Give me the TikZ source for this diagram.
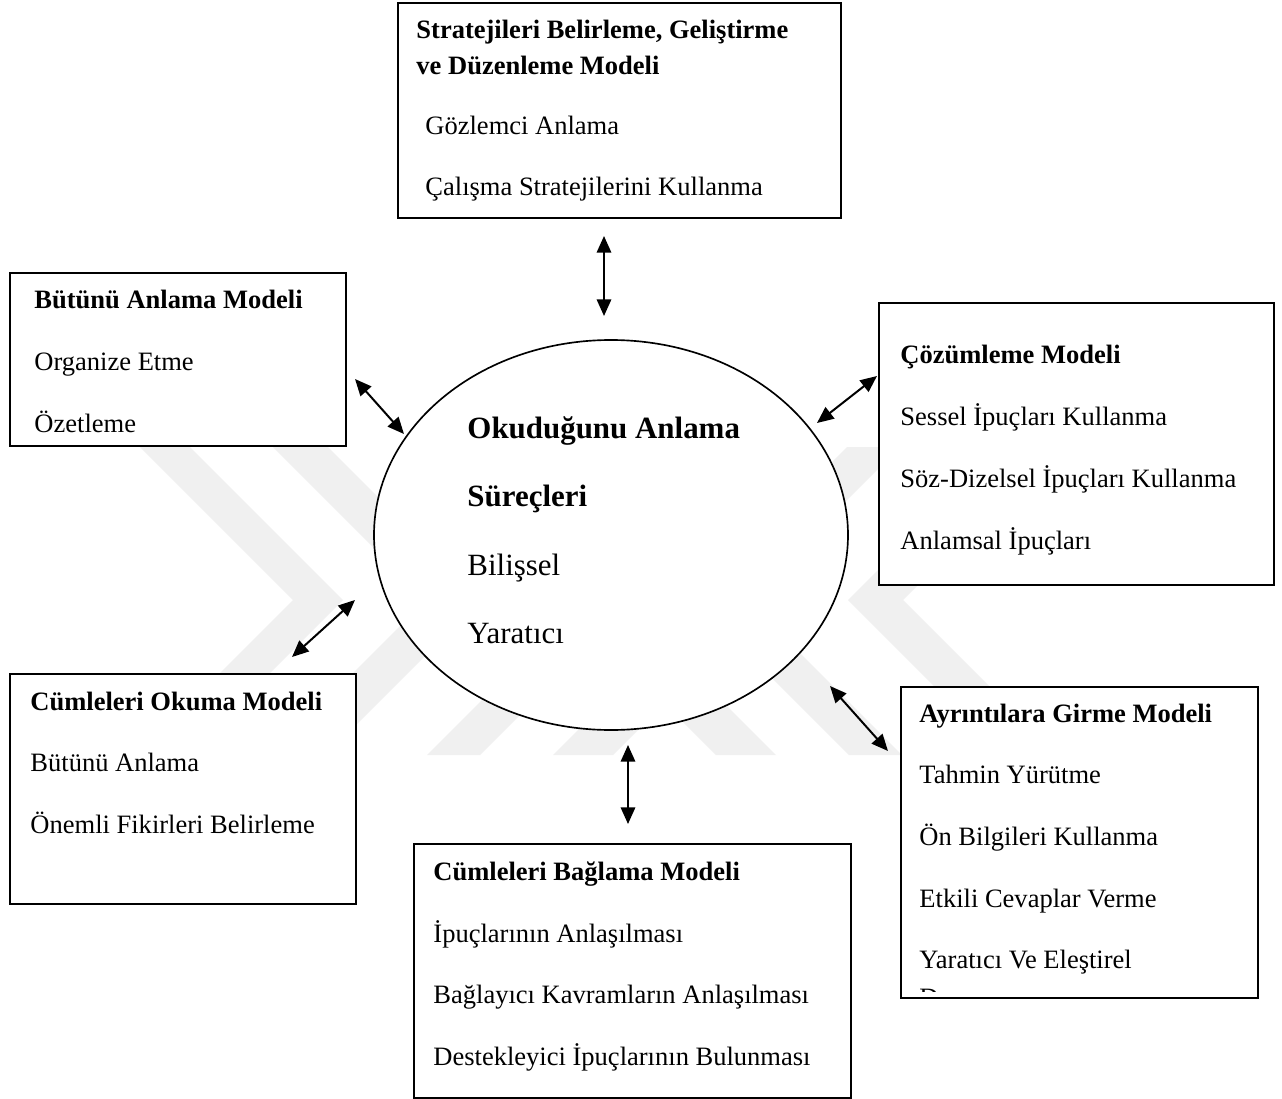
\documentclass[tikz,border=0pt]{standalone}
\usepackage{fontspec}
\setmainfont{Liberation Serif}
\usetikzlibrary{arrows.meta,shapes.geometric}
\newcommand\pxu{0.4525pt}
\begin{document}
\begin{tikzpicture}[x=0.4525pt,y=-0.4525pt,
  box/.style={draw,line width=0.75pt,fill=white,inner sep=0,anchor=north west},
  txt/.style={anchor=base west,inner sep=0,font=\fontsize{12}{14}\selectfont},
  ttl/.style={anchor=base west,inner sep=0,font=\fontsize{12}{14}\selectfont\bfseries},
  big/.style={anchor=base west,inner sep=0,font=\fontsize{14}{16}\selectfont},
  bigb/.style={anchor=base west,inner sep=0,font=\fontsize{14}{16}\selectfont\bfseries},
  wm/.style={fill=black!6},
  conn/.style={line width=0.9pt,{Triangle[length=7.5pt,width=6.5pt]}-{Triangle[length=7.5pt,width=6.5pt]}}
]
\useasboundingbox (0,0) rectangle (1282,1099);
\fill[white] (0,0) rectangle (1282,1099);
% watermark
\foreach \v/\w in {293/50,426/55,582/53,708/60}{
  \fill[wm] ({\v-153},447) -- ({\v-153+\w},447) -- ({\v+\w},600) -- ({\v-155+\w},755) -- ({\v-155},755) -- (\v,600) -- cycle;
}
\foreach \v/\w in {426/55,582/53,708/60}{
  \fill[wm] ({1329-\v+153},447) -- ({1329-\v+153-\w},447) -- ({1329-\v-\w},600) -- ({1329-\v+155-\w},755) -- ({1329-\v+155},755) -- ({1329-\v},600) -- cycle;
}
% boxes
\node[box,minimum width=443*\pxu,minimum height=215*\pxu] (top) at (397,2) {};
\node[box,minimum width=336*\pxu,minimum height=173*\pxu] (but) at (9,272) {};
\node[box,minimum width=395*\pxu,minimum height=282*\pxu] (coz) at (878,302) {};
\node[box,minimum width=346*\pxu,minimum height=230*\pxu] (cok) at (9,673) {};
\node[box,minimum width=437*\pxu,minimum height=254*\pxu] (cba) at (413,843) {};
\node[box,minimum width=357*\pxu,minimum height=311*\pxu] (ayr) at (900,686) {};
\node[ellipse,draw,line width=0.75pt,fill=white,inner sep=0,minimum width=474*\pxu,minimum height=390*\pxu] (ell) at (611,535) {};
% top box text
\node[ttl] (t1) at (416,38) {Stratejileri Belirleme, Geliştirme};
\node[ttl] (t2) at (416,74) {ve Düzenleme Modeli};
\node[txt] (t3) at (425,134) {Gözlemci Anlama};
\node[txt] (t4) at (425,195) {Çalışma Stratejilerini Kullanma};
% Bütünü
\node[ttl] (b1) at (34,308) {Bütünü Anlama Modeli};
\node[txt] (b2) at (34,370) {Organize Etme};
\node[txt] (b3) at (34,432) {Özetleme};
% Çözümleme
\node[ttl] (c1) at (900,363) {Çözümleme Modeli};
\node[txt] (c2) at (900,425) {Sessel İpuçları Kullanma};
\node[txt] (c3) at (900,487) {Söz-Dizelsel İpuçları Kullanma};
\node[txt] (c4) at (900,549) {Anlamsal İpuçları};
% ellipse
\node[bigb] (e1) at (467,438) {Okuduğunu Anlama};
\node[bigb] (e2) at (467,506) {Süreçleri};
\node[big] (e3) at (467,575) {Bilişsel};
\node[big] (e4) at (467,643) {Yaratıcı};
% Cümleleri Okuma
\node[ttl] (o1) at (30,710) {Cümleleri Okuma Modeli};
\node[txt] (o2) at (30,771) {Bütünü Anlama};
\node[txt] (o3) at (30,833) {Önemli Fikirleri Belirleme};
% Cümleleri Bağlama
\node[ttl] (g1) at (433,880) {Cümleleri Bağlama Modeli};
\node[txt] (g2) at (433,942) {İpuçlarının Anlaşılması};
\node[txt] (g3) at (433,1003) {Bağlayıcı Kavramların Anlaşılması};
\node[txt] (g4) at (433,1065) {Destekleyici İpuçlarının Bulunması};
% Ayrıntılara
\node[ttl] (a1) at (919,722) {Ayrıntılara Girme Modeli};
\node[txt] (a2) at (919,783) {Tahmin Yürütme};
\node[txt] (a3) at (919,845) {Ön Bilgileri Kullanma};
\node[txt] (a4) at (919,907) {Etkili Cevaplar Verme};
\node[txt] (a5) at (919,968) {Yaratıcı Ve Eleştirel};
\begin{scope}
\clip (905,984) rectangle (940,991);
\node[txt] (a6) at (919,1006) {Düşünme};
\end{scope}
% arrows
\coordinate (p1a) at (604,236); \coordinate (p1b) at (604,316);
\coordinate (p2a) at (355,379); \coordinate (p2b) at (404,434);
\coordinate (p3a) at (877,376); \coordinate (p3b) at (817,423);
\coordinate (p4a) at (355,600); \coordinate (p4b) at (292,657);
\coordinate (p5a) at (830,686); \coordinate (p5b) at (888,751);
\coordinate (p6a) at (628,745); \coordinate (p6b) at (628,824);
\draw[conn] (p1a) -- (p1b);
\draw[conn] (p2a) -- (p2b);
\draw[conn] (p3a) -- (p3b);
\draw[conn] (p4a) -- (p4b);
\draw[conn] (p5a) -- (p5b);
\draw[conn] (p6a) -- (p6b);
\end{tikzpicture}
\end{document}
